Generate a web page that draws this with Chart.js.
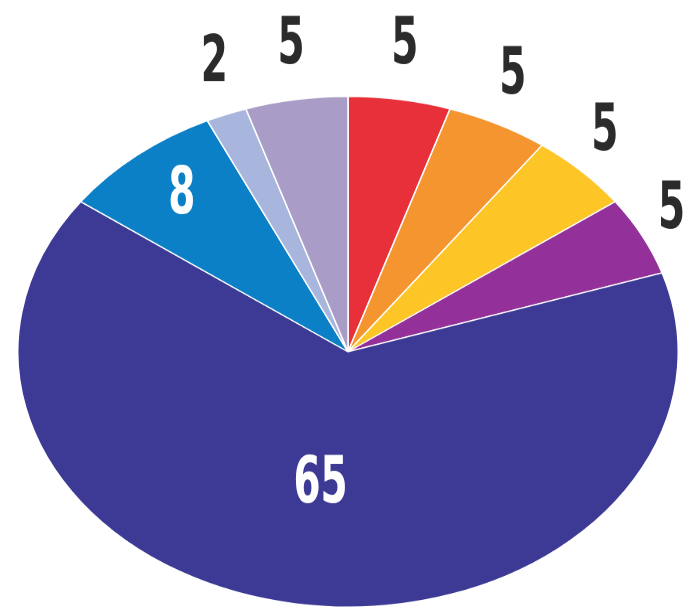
<!DOCTYPE html>
<html>
<head>
<meta charset="utf-8">
<script src="https://cdn.jsdelivr.net/npm/chart.js@4"></script>
<style>
  html, body { margin: 0; padding: 0; background: #fff; overflow: hidden; }
  #wrap { width: 690px; height: 613px; position: relative; overflow: hidden; }
  #pie {
    position: absolute; left: 0; top: 0;
    width: 690px; height: 793px;
    transform: scaleY(0.773); transform-origin: 0 0;
  }
</style>
</head>
<body>
<div id="wrap"><canvas id="pie" width="690" height="793"></canvas></div>
<script>
// data, clockwise from 12 o'clock
const categories = ['Rot', 'Orange', 'Gelb', 'Violett', 'Dunkelblau', 'Blau', 'Hellblau', 'Flieder'];
const values     = [5, 5, 5, 5, 65, 8, 2, 5];
const colors     = ['#e8303a', '#f4952f', '#fdc526', '#93309a', '#3d3a95', '#0b80c6', '#a8b6dd', '#a99cc6'];

const SQUASH = 0.773; // vertical squash applied by CSS to make the pie an ellipse

// ── Labels ────────────────────────────────────────────
// drawn unsquashed: undo the CSS scale and fake a condensed face
const drawLabel = (ctx, text, x, y, color) => {
  ctx.save();
  ctx.translate(x, y);
  ctx.scale(0.75, 1.24 / SQUASH);
  ctx.font = 'bold 52px "DejaVu Sans"';
  ctx.fillStyle = color;
  ctx.textAlign = 'center';
  ctx.textBaseline = 'middle';
  ctx.fillText(text, 0, 0);
  ctx.restore();
};

const labelPlugin = {
  id: 'pieLabels',
  afterDatasetsDraw(chart) {
    const ctx = chart.ctx;
    const meta = chart.getDatasetMeta(0);
    meta.data.forEach((arc, i) => {
      const { x, y, startAngle, endAngle, outerRadius } = arc.getProps(['x', 'y', 'startAngle', 'endAngle', 'outerRadius'], true);
      const mid = (startAngle + endAngle) / 2;
      const v = values[i];
      if (v >= 8) {
        const r = v > 50 ? outerRadius * 0.53 : outerRadius * 0.79;
        drawLabel(ctx, String(v), x + Math.cos(mid) * r, y + Math.sin(mid) * r, '#ffffff');
      } else {
        drawLabel(ctx, String(v),
          x + Math.cos(mid) * outerRadius * 1.10,
          y + Math.sin(mid) * outerRadius * 1.21,
          '#2b2b2b');
      }
    });
  },
};

new Chart(document.getElementById('pie'), {
  type: 'pie',
  data: {
    labels: categories,
    datasets: [{
      data: values,
      backgroundColor: colors,
      borderColor: '#ffffff',
      borderWidth: 1.5,
    }],
  },
  options: {
    responsive: false,
    animation: false,
    devicePixelRatio: 1,
    layout: { padding: { left: 6, right: 0, top: 124, bottom: 7 } },
    plugins: {
      legend: { display: false },
      tooltip: { enabled: false },
    },
  },
  plugins: [labelPlugin],
});
</script>
</body>
</html>
